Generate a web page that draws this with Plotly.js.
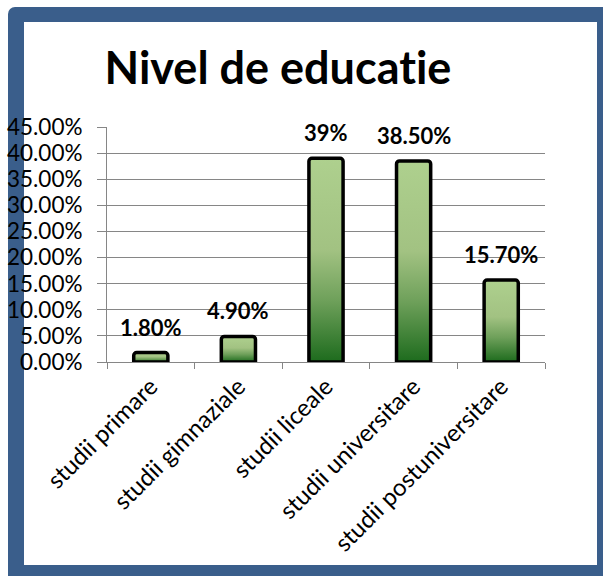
<!DOCTYPE html>
<html>
<head>
<meta charset="utf-8">
<script src="https://cdn.plot.ly/plotly-3.0.1.min.js"></script>
<style>
  html, body { margin: 0; padding: 0; width: 603px; height: 576px; overflow: hidden; background: #ffffff; }
  #frame { position: absolute; left: 8px; top: 7px; width: 620px; height: 600px; background: #3a5e8b; border-top-left-radius: 7px; }
  #inner { position: absolute; left: 24px; top: 22px; width: 573px; height: 543px; background: #ffffff; }
  #chart { position: absolute; left: 0; top: 0; width: 603px; height: 576px; }
  #chart text { font-variant-ligatures: none; font-feature-settings: "liga" 0, "clig" 0; }
</style>
</head>
<body>
<div id="frame"></div>
<div id="inner"></div>
<div id="chart"></div>
<script>
const chartTitle = "Nivel de educatie";
const categories = ["studii primare", "studii gimnaziale", "studii liceale", "studii universitare", "studii postuniversitare"];
const values = [0.018, 0.049, 0.39, 0.385, 0.157];
const valueLabels = ["1.80%", "4.90%", "39%", "38.50%", "15.70%"];
const yTickValues = [0, 0.05, 0.10, 0.15, 0.20, 0.25, 0.30, 0.35, 0.40, 0.45];

const trace = {
  type: "bar",
  x: categories,
  y: values,
  width: 0.39,
  marker: {
    color: "#8fb86e",
    line: { color: "#000000", width: 3.5 },
    cornerradius: 3
  },
  hoverinfo: "none"
};

const annotations = categories.map((c, i) => ({
  x: c, y: values[i], xref: "x", yref: "y",
  text: "<b>" + valueLabels[i] + "</b>",
  showarrow: false, yanchor: "bottom", xanchor: "center", yshift: 10,
  font: { family: "Lato, sans-serif", size: 22, color: "#000000" }
}));

const layout = {
  width: 603, height: 576,
  paper_bgcolor: "rgba(0,0,0,0)",
  plot_bgcolor: "rgba(0,0,0,0)",
  margin: { l: 107, r: 58, t: 127, b: 214 },
  showlegend: false,
  title: {
    text: "<b>" + chartTitle + "</b>",
    x: 0.461, xanchor: "center", xref: "container",
    y: 0.882, yanchor: "middle", yref: "container",
    font: { family: "Lato, sans-serif", size: 45, color: "#000000" }
  },
  xaxis: {
    type: "category",
    showline: true, linecolor: "#868686", linewidth: 1,
    ticks: "outside", ticklen: 6, tickcolor: "#868686",
    tickson: "boundaries",
    showgrid: false,
    tickangle: -45,
    tickfont: { family: "Lato, sans-serif", size: 24, color: "#000000" }
  },
  yaxis: {
    range: [0, 0.45],
    tickvals: yTickValues,
    tickformat: ".2%",
    showline: true, linecolor: "#868686", linewidth: 1,
    ticks: "outside", ticklen: 9, tickcolor: "#868686",
    showgrid: true, gridcolor: "#868686", gridwidth: 1,
    zeroline: false,
    ticklabelstandoff: 10,
    tickfont: { family: "Lato, sans-serif", size: 22.5, color: "#000000" }
  },
  annotations: annotations
};

Plotly.newPlot("chart", [trace], layout, { displayModeBar: false, staticPlot: true }).then(function (gd) {
  const svg = gd.querySelector("svg.main-svg");
  const ns = "http://www.w3.org/2000/svg";
  let defs = svg.querySelector("defs");
  if (!defs) { defs = document.createElementNS(ns, "defs"); svg.insertBefore(defs, svg.firstChild); }
  const grad = document.createElementNS(ns, "linearGradient");
  grad.setAttribute("id", "barGrad");
  grad.setAttribute("x1", "0"); grad.setAttribute("y1", "0");
  grad.setAttribute("x2", "0"); grad.setAttribute("y2", "1");
  [["0", "#aed08e"], ["0.45", "#a2c282"], ["0.7", "#6ea05a"], ["1", "#1d6b1d"]].forEach(function (s) {
    const st = document.createElementNS(ns, "stop");
    st.setAttribute("offset", s[0]);
    st.setAttribute("stop-color", s[1]);
    grad.appendChild(st);
  });
  defs.appendChild(grad);
  gd.querySelectorAll("g.trace.bars path").forEach(function (p) {
    p.style.fill = "url(#barGrad)";
  });
});
</script>
</body>
</html>
